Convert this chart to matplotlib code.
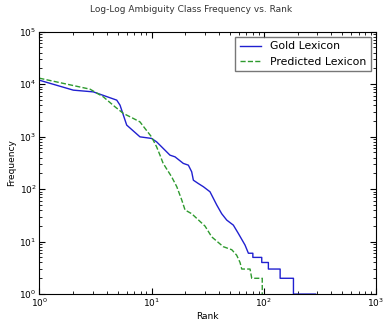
import numpy as np
import matplotlib
matplotlib.use('Agg')
import matplotlib.pyplot as plt

# rank / frequency pairs
gold_rank = [1, 2.01, 3.03, 4.9, 5.24, 6.01, 7.89, 10.0, 11.1, 12.3, 14.6, 16.2,
             19.2, 21.3, 22.8, 23.6, 26.1, 29.0, 33.2, 38.1, 42.2, 46.8, 53.6,
             59.4, 68.1, 73, 80, 80, 96, 96, 110, 110, 140, 140, 184, 184, 290]
gold_freq = [11900, 7690, 7130, 4960, 3980, 1660, 991, 925, 796, 640, 444, 412,
             309, 286, 214, 148, 128, 111, 89, 50, 34, 25.7, 20.6,
             14.3, 8.6, 6, 6, 5, 5, 4, 4, 3, 3, 2, 2, 1, 1]

pred_rank = [1, 2.83, 3.72, 4.73, 5.61, 6.89, 7.89, 8.75, 10.0, 11.1, 11.9, 12.7,
             15.1, 16.8, 18.6, 19.9, 22.8, 25.3, 30.0, 34.4, 43.6, 51.9, 57.4,
             61.5, 63.7, 75.5, 78.2, 92.7, 97, 97]
pred_freq = [13000, 8030, 5730, 3700, 2770, 2220, 1910, 1430, 991, 640, 444, 309,
             172, 111, 62, 40, 34, 27.7, 19.7, 12.3, 8, 7, 5.5,
             4, 3, 3, 2, 2, 2, 1]

fig = plt.figure(figsize=(3.83, 3.2), dpi=100)
ax = fig.add_axes([0.1026, 0.081, 0.879, 0.820])

ax.plot(gold_rank, gold_freq, color='#2020d0', lw=1.0, label='Gold Lexicon')
ax.plot(pred_rank, pred_freq, color='#2e9a2e', lw=1.0, ls='--', label='Predicted Lexicon')

ax.set_xscale('log')
ax.set_yscale('log')
ax.set_xlim(1, 1000)
ax.set_ylim(1, 1e5)

ax.tick_params(which='both', direction='in', top=True, right=True, labelsize=6.5, pad=2)
ax.tick_params(which='major', length=4)
ax.tick_params(which='minor', length=2)

ax.set_xlabel('Rank', fontsize=6.5, labelpad=2)
ax.set_ylabel('Frequency', fontsize=6.5, labelpad=2)
fig.suptitle('Log-Log Ambiguity Class Frequency vs. Rank', fontsize=6.5, y=0.985, color='#333333')

leg = ax.legend(loc='upper right', fontsize=7.8, fancybox=False, handlelength=2.0,
                borderaxespad=0.5)
leg.get_frame().set_edgecolor('#555555')

fig.savefig('out.png', dpi=100)
